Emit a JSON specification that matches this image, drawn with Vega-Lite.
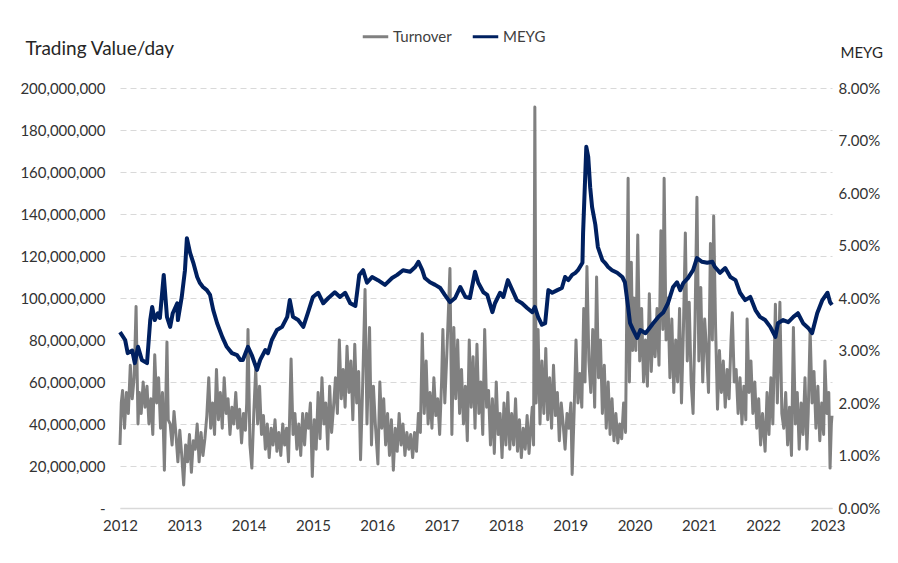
{
  "$schema": "https://vega.github.io/schema/vega-lite/v6.json",
  "width": 712,
  "height": 420,
  "autosize": "none",
  "padding": {"left": 120, "top": 88, "right": 66, "bottom": 55},
  "background": "white",
  "config": {
    "font": "Lato",
    "view": {"stroke": null},
    "axis": {"labelFont": "Lato", "titleFont": "Lato", "labelColor": "#333333", "titleColor": "#262626", "labelFontSize": 15, "ticks": false}
  },
  "datasets": {
    "turnover": [
      {"t":2012.00,"v":30},{"t":2012.02,"v":50},{"t":2012.04,"v":56},{"t":2012.07,"v":38},{"t":2012.10,"v":55},{"t":2012.13,"v":45},{"t":2012.16,"v":68},{"t":2012.19,"v":52},{"t":2012.22,"v":62},{"t":2012.25,"v":96},{"t":2012.28,"v":40},{"t":2012.30,"v":55},{"t":2012.33,"v":45},{"t":2012.36,"v":60},{"t":2012.39,"v":48},{"t":2012.42,"v":58},{"t":2012.45,"v":40},{"t":2012.48,"v":52},{"t":2012.51,"v":35},{"t":2012.54,"v":73},{"t":2012.57,"v":50},{"t":2012.60,"v":62},{"t":2012.63,"v":38},{"t":2012.66,"v":55},{"t":2012.69,"v":18},{"t":2012.73,"v":79},{"t":2012.75,"v":42},{"t":2012.78,"v":40},{"t":2012.81,"v":30},{"t":2012.84,"v":46},{"t":2012.87,"v":35},{"t":2012.90,"v":22},{"t":2012.93,"v":37},{"t":2012.96,"v":25},{"t":2012.99,"v":11},
      {"t":2013.02,"v":30},{"t":2013.05,"v":22},{"t":2013.08,"v":35},{"t":2013.11,"v":17},{"t":2013.14,"v":32},{"t":2013.17,"v":28},{"t":2013.20,"v":40},{"t":2013.23,"v":22},{"t":2013.26,"v":36},{"t":2013.29,"v":25},{"t":2013.32,"v":33},{"t":2013.35,"v":44},{"t":2013.38,"v":62},{"t":2013.41,"v":38},{"t":2013.44,"v":50},{"t":2013.47,"v":35},{"t":2013.50,"v":66},{"t":2013.53,"v":42},{"t":2013.56,"v":55},{"t":2013.59,"v":38},{"t":2013.62,"v":62},{"t":2013.65,"v":45},{"t":2013.68,"v":52},{"t":2013.71,"v":35},{"t":2013.74,"v":48},{"t":2013.77,"v":40},{"t":2013.80,"v":55},{"t":2013.83,"v":38},{"t":2013.86,"v":47},{"t":2013.89,"v":31},{"t":2013.92,"v":45},{"t":2013.95,"v":37},{"t":2013.97,"v":50},{"t":2013.99,"v":85},
      {"t":2014.02,"v":30},{"t":2014.05,"v":19},{"t":2014.08,"v":45},{"t":2014.11,"v":66},{"t":2014.14,"v":40},{"t":2014.17,"v":58},{"t":2014.20,"v":35},{"t":2014.23,"v":44},{"t":2014.26,"v":28},{"t":2014.29,"v":40},{"t":2014.32,"v":24},{"t":2014.35,"v":38},{"t":2014.38,"v":30},{"t":2014.41,"v":42},{"t":2014.44,"v":27},{"t":2014.47,"v":36},{"t":2014.50,"v":25},{"t":2014.53,"v":40},{"t":2014.56,"v":30},{"t":2014.59,"v":38},{"t":2014.62,"v":22},{"t":2014.66,"v":71},{"t":2014.69,"v":35},{"t":2014.72,"v":45},{"t":2014.75,"v":28},{"t":2014.78,"v":40},{"t":2014.81,"v":25},{"t":2014.84,"v":45},{"t":2014.87,"v":30},{"t":2014.90,"v":45},{"t":2014.93,"v":38},{"t":2014.96,"v":50},{"t":2014.99,"v":15},
      {"t":2015.02,"v":42},{"t":2015.05,"v":28},{"t":2015.08,"v":55},{"t":2015.11,"v":33},{"t":2015.14,"v":62},{"t":2015.17,"v":40},{"t":2015.20,"v":50},{"t":2015.23,"v":28},{"t":2015.26,"v":58},{"t":2015.29,"v":36},{"t":2015.32,"v":48},{"t":2015.35,"v":62},{"t":2015.38,"v":45},{"t":2015.41,"v":80},{"t":2015.44,"v":52},{"t":2015.47,"v":66},{"t":2015.50,"v":48},{"t":2015.53,"v":77},{"t":2015.56,"v":55},{"t":2015.59,"v":70},{"t":2015.62,"v":42},{"t":2015.65,"v":78},{"t":2015.68,"v":50},{"t":2015.71,"v":65},{"t":2015.74,"v":23},{"t":2015.77,"v":55},{"t":2015.81,"v":104},{"t":2015.84,"v":40},{"t":2015.88,"v":86},{"t":2015.91,"v":30},{"t":2015.94,"v":58},{"t":2015.97,"v":40},
      {"t":2016.01,"v":21},{"t":2016.04,"v":60},{"t":2016.07,"v":38},{"t":2016.10,"v":52},{"t":2016.13,"v":30},{"t":2016.16,"v":45},{"t":2016.19,"v":25},{"t":2016.22,"v":42},{"t":2016.25,"v":18},{"t":2016.28,"v":38},{"t":2016.31,"v":27},{"t":2016.34,"v":45},{"t":2016.37,"v":30},{"t":2016.40,"v":40},{"t":2016.43,"v":25},{"t":2016.46,"v":36},{"t":2016.49,"v":28},{"t":2016.52,"v":35},{"t":2016.55,"v":24},{"t":2016.58,"v":36},{"t":2016.61,"v":27},{"t":2016.64,"v":45},{"t":2016.67,"v":36},{"t":2016.70,"v":83},{"t":2016.73,"v":45},{"t":2016.76,"v":70},{"t":2016.79,"v":40},{"t":2016.82,"v":55},{"t":2016.85,"v":38},{"t":2016.88,"v":62},{"t":2016.91,"v":44},{"t":2016.94,"v":52},{"t":2016.97,"v":35},
      {"t":2017.00,"v":60},{"t":2017.02,"v":85},{"t":2017.05,"v":50},{"t":2017.08,"v":72},{"t":2017.13,"v":114},{"t":2017.16,"v":35},{"t":2017.19,"v":86},{"t":2017.22,"v":52},{"t":2017.25,"v":80},{"t":2017.28,"v":45},{"t":2017.31,"v":66},{"t":2017.34,"v":40},{"t":2017.37,"v":58},{"t":2017.40,"v":32},{"t":2017.43,"v":80},{"t":2017.46,"v":48},{"t":2017.49,"v":72},{"t":2017.52,"v":38},{"t":2017.55,"v":78},{"t":2017.58,"v":45},{"t":2017.61,"v":60},{"t":2017.64,"v":35},{"t":2017.67,"v":85},{"t":2017.70,"v":48},{"t":2017.73,"v":56},{"t":2017.76,"v":30},{"t":2017.79,"v":52},{"t":2017.82,"v":26},{"t":2017.85,"v":60},{"t":2017.88,"v":35},{"t":2017.91,"v":45},{"t":2017.94,"v":24},{"t":2017.97,"v":50},
      {"t":2018.00,"v":30},{"t":2018.03,"v":55},{"t":2018.06,"v":28},{"t":2018.09,"v":45},{"t":2018.12,"v":30},{"t":2018.15,"v":52},{"t":2018.18,"v":27},{"t":2018.21,"v":42},{"t":2018.24,"v":24},{"t":2018.27,"v":38},{"t":2018.30,"v":28},{"t":2018.33,"v":44},{"t":2018.36,"v":26},{"t":2018.39,"v":40},{"t":2018.41,"v":48},{"t":2018.43,"v":30},{"t":2018.45,"v":191},{"t":2018.47,"v":50},{"t":2018.50,"v":85},{"t":2018.53,"v":40},{"t":2018.56,"v":70},{"t":2018.59,"v":45},{"t":2018.62,"v":76},{"t":2018.65,"v":42},{"t":2018.68,"v":62},{"t":2018.71,"v":38},{"t":2018.74,"v":68},{"t":2018.77,"v":44},{"t":2018.80,"v":55},{"t":2018.83,"v":32},{"t":2018.86,"v":50},{"t":2018.89,"v":40},{"t":2018.92,"v":28},{"t":2018.95,"v":45},{"t":2018.98,"v":38},
      {"t":2019.01,"v":50},{"t":2019.03,"v":16},{"t":2019.06,"v":45},{"t":2019.09,"v":80},{"t":2019.12,"v":50},{"t":2019.15,"v":64},{"t":2019.18,"v":48},{"t":2019.21,"v":95},{"t":2019.23,"v":60},{"t":2019.26,"v":115},{"t":2019.29,"v":70},{"t":2019.32,"v":55},{"t":2019.35,"v":85},{"t":2019.38,"v":48},{"t":2019.41,"v":110},{"t":2019.44,"v":62},{"t":2019.47,"v":80},{"t":2019.50,"v":45},{"t":2019.53,"v":68},{"t":2019.56,"v":38},{"t":2019.59,"v":60},{"t":2019.62,"v":35},{"t":2019.65,"v":52},{"t":2019.68,"v":32},{"t":2019.71,"v":45},{"t":2019.74,"v":31},{"t":2019.77,"v":40},{"t":2019.80,"v":33},{"t":2019.83,"v":50},{"t":2019.86,"v":36},{"t":2019.90,"v":157},{"t":2019.92,"v":60},{"t":2019.95,"v":117},{"t":2019.97,"v":75},
      {"t":2019.99,"v":100},{"t":2020.02,"v":75},{"t":2020.05,"v":130},{"t":2020.08,"v":70},{"t":2020.11,"v":95},{"t":2020.14,"v":60},{"t":2020.17,"v":80},{"t":2020.20,"v":58},{"t":2020.23,"v":102},{"t":2020.26,"v":65},{"t":2020.29,"v":88},{"t":2020.32,"v":72},{"t":2020.35,"v":95},{"t":2020.38,"v":68},{"t":2020.41,"v":132},{"t":2020.44,"v":85},{"t":2020.46,"v":157},{"t":2020.49,"v":80},{"t":2020.52,"v":100},{"t":2020.55,"v":62},{"t":2020.58,"v":90},{"t":2020.61,"v":55},{"t":2020.64,"v":80},{"t":2020.67,"v":60},{"t":2020.70,"v":95},{"t":2020.73,"v":50},{"t":2020.76,"v":85},{"t":2020.79,"v":131},{"t":2020.82,"v":70},{"t":2020.85,"v":98},{"t":2020.88,"v":60},{"t":2020.91,"v":45},{"t":2020.94,"v":88},{"t":2020.97,"v":148},
      {"t":2021.00,"v":70},{"t":2021.03,"v":105},{"t":2021.06,"v":60},{"t":2021.09,"v":90},{"t":2021.12,"v":75},{"t":2021.15,"v":55},{"t":2021.18,"v":126},{"t":2021.21,"v":80},{"t":2021.23,"v":139},{"t":2021.26,"v":86},{"t":2021.29,"v":47},{"t":2021.32,"v":75},{"t":2021.35,"v":55},{"t":2021.38,"v":70},{"t":2021.41,"v":48},{"t":2021.44,"v":66},{"t":2021.47,"v":52},{"t":2021.50,"v":80},{"t":2021.52,"v":93},{"t":2021.55,"v":60},{"t":2021.58,"v":66},{"t":2021.61,"v":45},{"t":2021.64,"v":62},{"t":2021.67,"v":40},{"t":2021.70,"v":58},{"t":2021.73,"v":42},{"t":2021.75,"v":90},{"t":2021.78,"v":55},{"t":2021.81,"v":70},{"t":2021.84,"v":45},{"t":2021.87,"v":60},{"t":2021.90,"v":38},{"t":2021.93,"v":52},{"t":2021.96,"v":30},{"t":2021.99,"v":45},
      {"t":2022.03,"v":27},{"t":2022.06,"v":55},{"t":2022.09,"v":35},{"t":2022.12,"v":62},{"t":2022.15,"v":40},{"t":2022.19,"v":97},{"t":2022.22,"v":50},{"t":2022.26,"v":98},{"t":2022.29,"v":45},{"t":2022.32,"v":38},{"t":2022.35,"v":55},{"t":2022.38,"v":30},{"t":2022.41,"v":48},{"t":2022.44,"v":25},{"t":2022.47,"v":86},{"t":2022.50,"v":40},{"t":2022.53,"v":55},{"t":2022.56,"v":28},{"t":2022.59,"v":50},{"t":2022.62,"v":35},{"t":2022.65,"v":62},{"t":2022.68,"v":28},{"t":2022.70,"v":45},{"t":2022.73,"v":85},{"t":2022.76,"v":50},{"t":2022.79,"v":65},{"t":2022.82,"v":38},{"t":2022.85,"v":58},{"t":2022.88,"v":32},{"t":2022.91,"v":50},{"t":2022.94,"v":35},{"t":2022.96,"v":70},{"t":2022.99,"v":45},{"t":2023.02,"v":55},{"t":2023.04,"v":19},{"t":2023.06,"v":40},{"t":2023.07,"v":44}
    ],
    "meyg": [
      {"t":2012.00,"v":3.35},{"t":2012.08,"v":3.2},{"t":2012.12,"v":2.95},{"t":2012.19,"v":3.0},{"t":2012.23,"v":2.76},{"t":2012.28,"v":3.07},{"t":2012.34,"v":2.82},{"t":2012.42,"v":2.76},{"t":2012.47,"v":3.58},{"t":2012.50,"v":3.83},{"t":2012.54,"v":3.58},{"t":2012.59,"v":3.71},{"t":2012.62,"v":3.62},{"t":2012.68,"v":4.44},{"t":2012.73,"v":3.64},{"t":2012.78,"v":3.45},{"t":2012.82,"v":3.71},{"t":2012.89,"v":3.9},{"t":2012.90,"v":3.58},{"t":2012.96,"v":4.02},
      {"t":2013.01,"v":4.53},{"t":2013.04,"v":5.14},{"t":2013.09,"v":4.86},{"t":2013.14,"v":4.67},{"t":2013.20,"v":4.4},{"t":2013.24,"v":4.29},{"t":2013.29,"v":4.21},{"t":2013.35,"v":4.15},{"t":2013.40,"v":4.06},{"t":2013.45,"v":3.77},{"t":2013.51,"v":3.52},{"t":2013.59,"v":3.26},{"t":2013.66,"v":3.07},{"t":2013.74,"v":2.95},{"t":2013.82,"v":2.91},{"t":2013.87,"v":2.82},{"t":2013.91,"v":2.82},{"t":2013.99,"v":3.07},
      {"t":2014.05,"v":2.91},{"t":2014.13,"v":2.63},{"t":2014.18,"v":2.82},{"t":2014.26,"v":3.01},{"t":2014.30,"v":2.95},{"t":2014.36,"v":3.2},{"t":2014.44,"v":3.39},{"t":2014.52,"v":3.45},{"t":2014.60,"v":3.64},{"t":2014.64,"v":3.96},{"t":2014.69,"v":3.64},{"t":2014.77,"v":3.58},{"t":2014.85,"v":3.45},{"t":2014.92,"v":3.71},
      {"t":2015.00,"v":4.02},{"t":2015.08,"v":4.1},{"t":2015.16,"v":3.9},{"t":2015.24,"v":4.0},{"t":2015.34,"v":4.11},{"t":2015.42,"v":4.02},{"t":2015.50,"v":4.1},{"t":2015.58,"v":3.9},{"t":2015.66,"v":3.85},{"t":2015.72,"v":4.44},{"t":2015.78,"v":4.53},{"t":2015.84,"v":4.29},{"t":2015.92,"v":4.4},
      {"t":2016.01,"v":4.34},{"t":2016.12,"v":4.25},{"t":2016.23,"v":4.38},{"t":2016.31,"v":4.44},{"t":2016.40,"v":4.53},{"t":2016.51,"v":4.5},{"t":2016.59,"v":4.59},{"t":2016.64,"v":4.69},{"t":2016.70,"v":4.53},{"t":2016.74,"v":4.38},{"t":2016.82,"v":4.3},{"t":2016.90,"v":4.25},{"t":2016.98,"v":4.19},
      {"t":2017.05,"v":4.06},{"t":2017.13,"v":3.92},{"t":2017.21,"v":4.0},{"t":2017.29,"v":4.21},{"t":2017.37,"v":4.02},{"t":2017.44,"v":4.0},{"t":2017.52,"v":4.5},{"t":2017.57,"v":4.29},{"t":2017.65,"v":4.11},{"t":2017.71,"v":4.06},{"t":2017.79,"v":3.73},{"t":2017.83,"v":3.9},{"t":2017.91,"v":4.1},{"t":2017.96,"v":4.02},
      {"t":2018.03,"v":4.34},{"t":2018.10,"v":4.15},{"t":2018.17,"v":3.96},{"t":2018.25,"v":3.9},{"t":2018.33,"v":3.81},{"t":2018.41,"v":3.73},{"t":2018.45,"v":3.83},{"t":2018.50,"v":3.64},{"t":2018.56,"v":3.49},{"t":2018.61,"v":3.52},{"t":2018.66,"v":4.15},{"t":2018.72,"v":4.1},{"t":2018.80,"v":4.15},{"t":2018.87,"v":4.19},{"t":2018.92,"v":4.4},{"t":2018.97,"v":4.34},
      {"t":2019.03,"v":4.44},{"t":2019.08,"v":4.48},{"t":2019.12,"v":4.53},{"t":2019.19,"v":4.67},{"t":2019.20,"v":5.24},{"t":2019.25,"v":6.88},{"t":2019.28,"v":6.69},{"t":2019.31,"v":6.11},{"t":2019.34,"v":5.73},{"t":2019.39,"v":5.4},{"t":2019.43,"v":4.97},{"t":2019.50,"v":4.72},{"t":2019.54,"v":4.67},{"t":2019.59,"v":4.59},{"t":2019.65,"v":4.53},{"t":2019.73,"v":4.48},{"t":2019.81,"v":4.4},{"t":2019.85,"v":4.3},{"t":2019.90,"v":3.83},{"t":2019.93,"v":3.52},{"t":2019.98,"v":3.39},
      {"t":2020.04,"v":3.24},{"t":2020.09,"v":3.39},{"t":2020.17,"v":3.33},{"t":2020.21,"v":3.39},{"t":2020.29,"v":3.52},{"t":2020.37,"v":3.64},{"t":2020.45,"v":3.73},{"t":2020.52,"v":3.9},{"t":2020.60,"v":4.21},{"t":2020.66,"v":4.3},{"t":2020.71,"v":4.15},{"t":2020.76,"v":4.29},{"t":2020.83,"v":4.38},{"t":2020.91,"v":4.53},{"t":2020.97,"v":4.76},
      {"t":2021.05,"v":4.69},{"t":2021.13,"v":4.67},{"t":2021.21,"v":4.69},{"t":2021.25,"v":4.59},{"t":2021.33,"v":4.48},{"t":2021.41,"v":4.57},{"t":2021.49,"v":4.4},{"t":2021.57,"v":4.34},{"t":2021.64,"v":4.1},{"t":2021.72,"v":3.96},{"t":2021.80,"v":4.02},{"t":2021.88,"v":3.77},{"t":2021.95,"v":3.64},
      {"t":2022.03,"v":3.58},{"t":2022.11,"v":3.45},{"t":2022.19,"v":3.26},{"t":2022.23,"v":3.52},{"t":2022.31,"v":3.58},{"t":2022.39,"v":3.54},{"t":2022.47,"v":3.64},{"t":2022.54,"v":3.71},{"t":2022.62,"v":3.52},{"t":2022.70,"v":3.43},{"t":2022.76,"v":3.33},{"t":2022.84,"v":3.71},{"t":2022.92,"v":3.96},{"t":2023.00,"v":4.1},{"t":2023.04,"v":3.92},{"t":2023.07,"v":3.87}
    ]
  },
  "layer": [
    {
      "data": {"name": "turnover"},
      "mark": {"type": "line", "strokeWidth": 3, "strokeJoin": "round"},
      "encoding": {
        "x": {"field": "t", "type": "quantitative", "scale": {"domain": [2012, 2023.07], "nice": false, "zero": false},
              "axis": {"title": null, "values": [2012,2013,2014,2015,2016,2017,2018,2019,2020,2021,2022,2023], "format": "d", "grid": false, "domainColor": "#d9d9d9", "domainWidth": 1.5, "labelPadding": 10, "labelFlush": false}},
        "y": {"field": "v", "type": "quantitative", "scale": {"domain": [0, 200], "nice": false},
              "axis": {"title": "Trading Value/day", "titleAngle": 0, "titleAlign": "left", "titleBaseline": "middle", "titleX": -95, "titleY": -40, "titleFontSize": 19, "titleFontWeight": "normal",
                       "values": [0,20,40,60,80,100,120,140,160,180,200], "labelExpr": "datum.value == 0 ? '-' : format(datum.value * 1000000, ',')",
                       "grid": true, "gridDash": [6, 4], "gridColor": "#d9d9d9", "gridWidth": 1, "domain": false, "labelPadding": 15}},
        "color": {"datum": "Turnover", "type": "nominal",
                  "scale": {"domain": ["Turnover", "MEYG"], "range": ["#808080", "#002060"]},
                  "legend": {"title": null, "orient": "none", "legendX": 241, "legendY": -66, "direction": "horizontal", "symbolType": "stroke", "symbolStrokeWidth": 3, "symbolSize": 650, "labelFontSize": 15, "labelColor": "#404040", "labelFont": "Lato", "columnPadding": 14, "labelOffset": 3}}
      }
    },
    {
      "data": {"name": "meyg"},
      "mark": {"type": "line", "strokeWidth": 4, "strokeJoin": "round"},
      "encoding": {
        "x": {"field": "t", "type": "quantitative"},
        "y": {"field": "v", "type": "quantitative", "scale": {"domain": [0, 8], "nice": false},
              "axis": {"orient": "right", "title": "MEYG", "titleAngle": 0, "titleAlign": "left", "titleBaseline": "middle", "titleX": 8, "titleY": -36, "titleFontSize": 15, "titleFontWeight": "normal",
                       "values": [0,1,2,3,4,5,6,7,8], "labelExpr": "format(datum.value, '.2f') + '%'", "grid": false, "domain": false, "labelPadding": 6}},
        "color": {"datum": "MEYG", "type": "nominal"}
      }
    }
  ],
  "resolve": {"scale": {"y": "independent"}}
}
